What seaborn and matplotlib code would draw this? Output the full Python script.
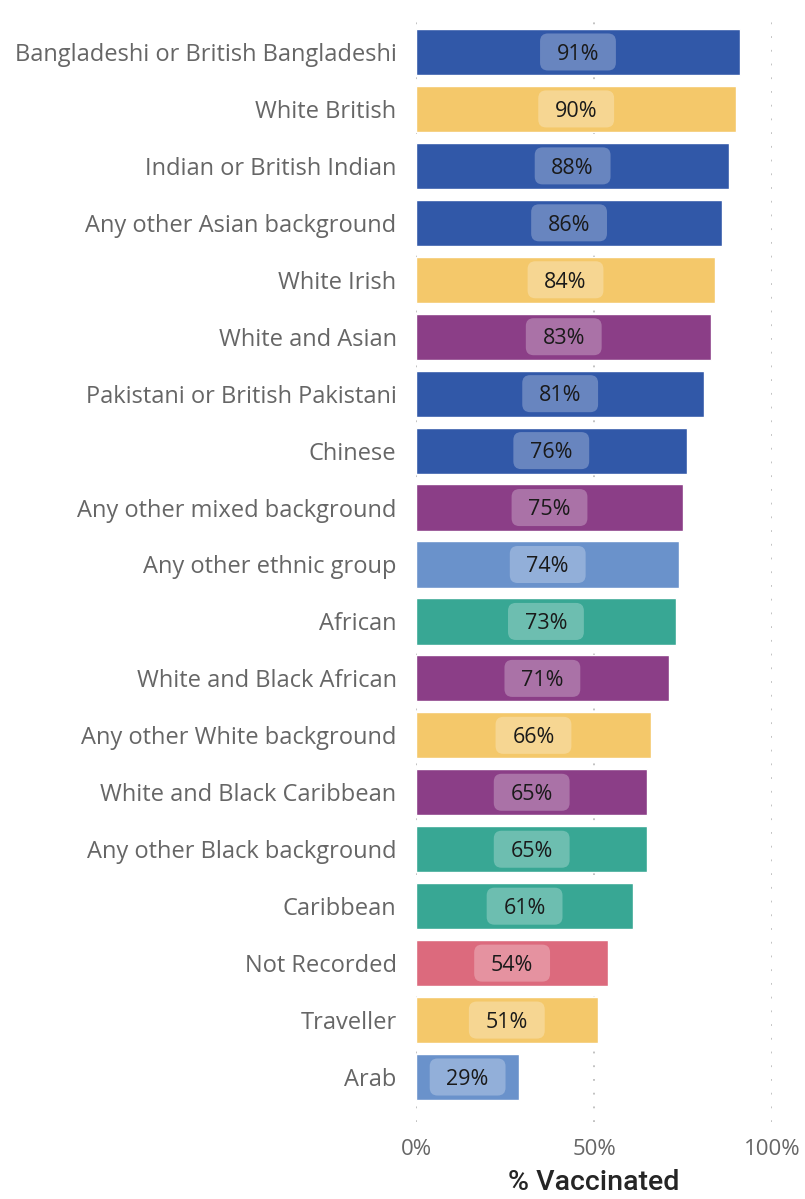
import matplotlib
matplotlib.use("Agg")
import matplotlib.pyplot as plt
from matplotlib.patches import FancyBboxPatch
import pandas as pd
import seaborn as sns

ethnicities = [
    "Bangladeshi or British Bangladeshi", "White British", "Indian or British Indian",
    "Any other Asian background", "White Irish", "White and Asian",
    "Pakistani or British Pakistani", "Chinese", "Any other mixed background",
    "Any other ethnic group", "African", "White and Black African",
    "Any other White background", "White and Black Caribbean",
    "Any other Black background", "Caribbean", "Not Recorded", "Traveller", "Arab",
]
vaccinated = [91, 90, 88, 86, 84, 83, 81, 76, 75, 74, 73, 71, 66, 65, 65, 61, 54, 51, 29]
groups = [
    "Asian", "White", "Asian", "Asian", "White", "Mixed", "Asian", "Asian", "Mixed",
    "Other", "Black", "Mixed", "White", "Mixed", "Black", "Black", "Unknown", "White", "Other",
]
group_colours = {
    "Asian": "#3158A8",
    "White": "#F4C86A",
    "Mixed": "#8B3E87",
    "Other": "#6A92CB",
    "Black": "#38A794",
    "Unknown": "#DC6A7D",
}

df = pd.DataFrame({"Ethnicity": ethnicities, "Vaccinated": vaccinated, "Group": groups})

sns.set_style("white")
plt.rcParams["font.family"] = ["Open Sans", "DejaVu Sans"]

fig = plt.figure(figsize=(8.05, 11.99), dpi=100)
ax = fig.add_axes([416 / 805, 1 - 1122 / 1199, (772 - 416) / 805, (1122 - 14) / 1199])

sns.barplot(data=df, x="Vaccinated", y="Ethnicity", hue="Group", palette=group_colours,
            dodge=False, width=0.81, saturation=1, legend=False, ax=ax)

# label boxes: fixed size, rounded, semi-transparent white
box_w, box_h = 21.3, 0.65
for i, v in enumerate(vaccinated):
    ax.add_patch(FancyBboxPatch((v / 2 - box_w / 2, i - box_h / 2), box_w, box_h,
                                boxstyle="round,pad=0,rounding_size=2.2", mutation_aspect=0.0625,
                                fc="white", ec="none", alpha=0.27, zorder=3))
    ax.text(v / 2, i + 0.04, f"{v}%", ha="center", va="center", fontsize=15.5,
            color="#1a1a1a", zorder=4)

ax.set_xlim(0, 100)
ax.set_ylim(18.79, -0.667)
ax.set_xticks([0, 50, 100])
ax.set_xticklabels(["0%", "50%", "100%"], fontsize=16, color="#666666")
ax.tick_params(axis="y", labelsize=17, labelcolor="#666666", length=0, pad=14)
ax.tick_params(axis="x", length=0, pad=12)
for x in [0, 50, 100]:
    ax.axvline(x, color="#bdbdbd", linestyle=(0, (1, 6.6)), lw=1.3, zorder=0)
for s in ax.spines.values():
    s.set_visible(False)
ax.set_ylabel("")
ax.set_xlabel("% Vaccinated", fontsize=20.5, color="#252525", fontweight="medium",
              family=["Roboto", "DejaVu Sans"])
ax.xaxis.set_label_coords(0.5, -(1182 - 1122) / 1108)
ax.xaxis.label.set_va("center")

fig.savefig("out.png", dpi=100)
